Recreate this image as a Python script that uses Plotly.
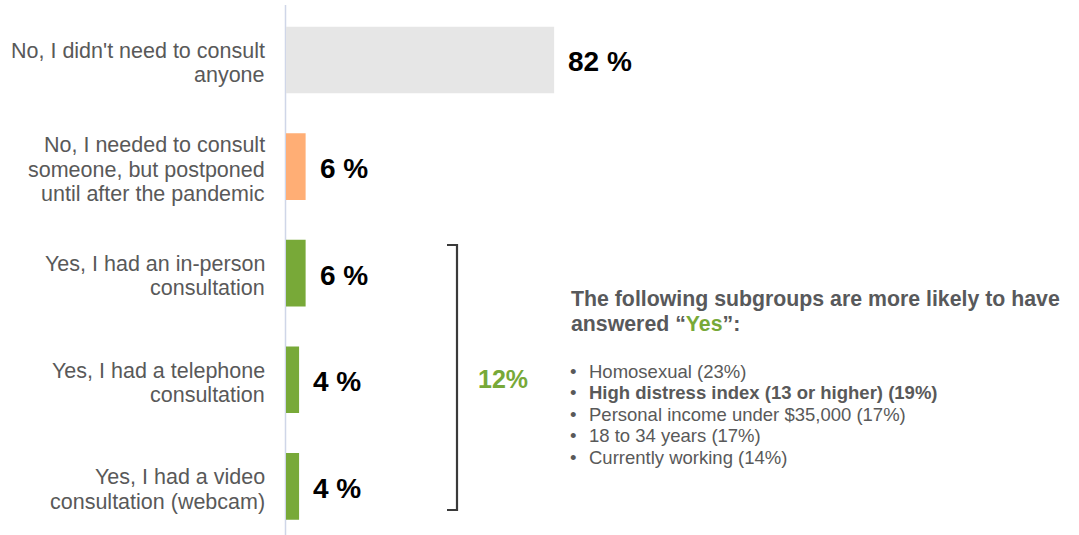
import plotly.graph_objects as go

# Survey answers (top to bottom) and their shares in percent
categories = [
    "No, I didn't need to consult<br>anyone",
    "No, I needed to consult<br>someone, but postponed<br>until after the pandemic",
    "Yes, I had an in-person<br>consultation",
    "Yes, I had a telephone<br>consultation",
    "Yes, I had a video<br>consultation (webcam)",
]
values = [82, 6, 6, 4, 4]
yes_total = 12

# Subgroups more likely to answer "Yes"
subgroups = [
    "Homosexual",
    "High distress index (13 or higher)",
    "Personal income under $35,000",
    "18 to 34 years",
    "Currently working",
]
subgroup_pcts = [23, 19, 17, 17, 14]
highlighted = [False, True, False, False, False]

bar_colors = ["#e6e6e6", "#ffae75", "#78a938", "#78a938", "#78a938"]
GREEN = "#78a938"
TEXT_GRAY = "#595959"
FONT = "Liberation Sans, Arial, sans-serif"

W, H = 1079, 535
ML, MT = 286, 7
PW, PH = W - ML, H - MT


def px(x):
    return (x - ML) / PW


def py(y):
    return 1 - (y - MT) / PH


fig = go.Figure()
fig.add_trace(go.Bar(
    x=values,
    y=categories,
    orientation="h",
    width=0.625,
    marker=dict(color=bar_colors, line=dict(width=0)),
    hoverinfo="skip",
))

annotations = []

# Category labels, right aligned left of the axis, one annotation per line
line_gap = 24.5
for cat in categories:
    lines = cat.split("<br>")
    n = len(lines)
    for i, ln in enumerate(lines):
        offset = (i - (n - 1) / 2) * line_gap + 3
        annotations.append(dict(
            x=0, xref="paper", y=cat, yref="y",
            xanchor="right", yanchor="middle", xshift=-19, yshift=-offset,
            text=ln, showarrow=False,
            font=dict(family=FONT, size=21.5, color=TEXT_GRAY),
        ))

# Value labels next to the bars
for cat, v in zip(categories, values):
    annotations.append(dict(
        x=v, xref="x", y=cat, yref="y",
        xanchor="left", yanchor="middle", xshift=12, yshift=-2,
        text=f"<b>{v} %</b>", showarrow=False,
        font=dict(family=FONT, size=28, color="#000000"),
    ))

# Total "Yes" next to the bracket
annotations.append(dict(
    x=px(476), xref="paper", y=py(379), yref="paper",
    xanchor="left", yanchor="middle",
    text=f"<b>{yes_total}%</b>", showarrow=False,
    font=dict(family=FONT, size=25, color=GREEN),
))

# Subgroup heading
header_lines = [
    "<b>The following subgroups are more likely to have</b>",
    f"<b>answered “<span style='color:{GREEN}'>Yes</span>”:</b>",
]
for i, ln in enumerate(header_lines):
    annotations.append(dict(
        x=px(569), xref="paper", y=py(299 + 25 * i), yref="paper",
        xanchor="left", yanchor="middle",
        text=ln, showarrow=False,
        font=dict(family=FONT, size=21.3, color="#58595b"),
    ))

# Bulleted subgroup list
for i, (name, pct, hl) in enumerate(zip(subgroups, subgroup_pcts, highlighted)):
    label = f"{name} ({pct}%)"
    if hl:
        label = f"<b>{label}</b>"
    yc = py(371 + 21.6 * i)
    annotations.append(dict(
        x=px(568), xref="paper", y=yc, yref="paper",
        xanchor="left", yanchor="middle",
        text="•", showarrow=False,
        font=dict(family=FONT, size=18.5, color=TEXT_GRAY),
    ))
    annotations.append(dict(
        x=px(587), xref="paper", y=yc, yref="paper",
        xanchor="left", yanchor="middle",
        text=label, showarrow=False,
        font=dict(family=FONT, size=18.5, color=TEXT_GRAY),
    ))

shapes = [
    # vertical axis line
    dict(type="line", xref="paper", yref="paper",
         x0=px(285.5), x1=px(285.5), y0=py(535), y1=py(5),
         line=dict(color="#cfd6e8", width=1.5), layer="below"),
    # bracket around the "Yes" answers
    dict(type="path", xref="paper", yref="paper",
         path=(f"M {px(447)} {py(245)} L {px(457)} {py(245)} "
               f"L {px(457)} {py(510)} L {px(447)} {py(510)}"),
         line=dict(color="#3a3a3a", width=2.2)),
]

fig.update_layout(
    width=W, height=H,
    margin=dict(l=ML, r=0, t=MT, b=0),
    paper_bgcolor="white", plot_bgcolor="white",
    showlegend=False,
    xaxis=dict(range=[0, PW / 3.27], visible=False, fixedrange=True),
    yaxis=dict(
        type="category", categoryarray=categories,
        range=[4.456, -0.497], visible=False, fixedrange=True,
    ),
    annotations=annotations,
    shapes=shapes,
    font=dict(family=FONT),
)

fig.write_html("out.html", config={"displayModeBar": False})
